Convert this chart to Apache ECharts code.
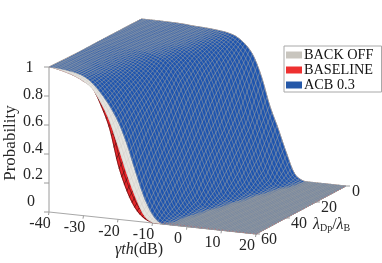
<!DOCTYPE html>
<html><head><meta charset="utf-8">
<style>html,body{margin:0;padding:0;background:#fff}#c{width:382px;height:263px}</style>
<script src="https://cdn.jsdelivr.net/npm/echarts@6/dist/echarts.min.js"></script>
</head><body><div id="c"></div>
<script>
const gammaGrid=[-40,-37.5,-35,-32.5,-30,-27.5,-25,-22.5,-20,-17.5,-15,-12.5,-10,-7.5,-5,-2.5,0,2.5,5,7.5,10,12.5,15,17.5,20];
const lambdaRowsAcb=[0,10,20,30,40,50,60];
const lambdaRowsOther=[0,20,40,60];
const acb0=[1,1,1,.999,.998,.995,.99,.987,.983,.977,.968,.948,.905,.83,.69,.5,.35,.19,.05,.005,0,0,0,0,0];
const acb10=[1,1,.999,.997,.993,.989,.986,.981,.974,.962,.934,.881,.785,.63,.45,.3,.145,.035,.002,0,0,0,0,0,0];
const acb20=[1,.999,.997,.993,.989,.986,.981,.974,.963,.937,.885,.79,.64,.455,.305,.15,.037,.002,0,0,0,0,0,0,0];
const acb30=[.999,.997,.994,.989,.985,.98,.974,.96,.935,.88,.79,.65,.47,.32,.16,.04,.003,0,0,0,0,0,0,0,0];
const acb40=[.997,.993,.987,.98,.972,.96,.94,.905,.85,.76,.63,.47,.32,.16,.04,.003,0,0,0,0,0,0,0,0,0];
const acb50=[.996,.992,.985,.975,.96,.94,.905,.85,.765,.65,.49,.33,.19,.06,.005,0,0,0,0,0,0,0,0,0,0];
const acb60=[1,.997,.99,.98,.96,.92,.855,.775,.67,.525,.34,.17,.055,.002,0,0,0,0,0,0,0,0,0,0,0];
const backoff20=[.999,.997,.993,.988,.984,.979,.972,.96,.935,.88,.8,.67,.49,.33,.17,.05,.003,0,0,0,0,0,0,0,0];
const backoff40=[.995,.988,.98,.97,.955,.93,.89,.82,.72,.56,.4,.23,.09,.01,0,0,0,0,0,0,0,0,0,0,0];
const backoff60=[1,.99,.975,.955,.925,.88,.79,.67,.5,.32,.165,.045,.002,0,0,0,0,0,0,0,0,0,0,0,0];
const baseline20=[.999,.997,.992,.987,.982,.976,.968,.95,.915,.85,.75,.6,.42,.26,.11,.02,0,0,0,0,0,0,0,0,0];
const baseline40=[.995,.987,.978,.965,.95,.92,.87,.78,.66,.49,.32,.17,.06,.005,0,0,0,0,0,0,0,0,0,0,0];
const baseline60=[1,.99,.975,.955,.925,.885,.77,.615,.37,.2,.085,.025,.001,0,0,0,0,0,0,0,0,0,0,0,0];
const zTicks=[0,.2,.4,.6,.8,1];
const zLabels=['0','0.2','0.4','0.6','0.8','1'];
const gammaTicks=[-40,-30,-20,-10,0,10,20];
const lambdaTicks=[0,20,40,60];

const surfaces=[
 {name:'BASELINE',color:'#e8262a',legend:'#ee3030',mesh:'#301010',rows:lambdaRowsOther,table:[acb0,baseline20,baseline40,baseline60],w:.55},
 {name:'BACK OFF',color:'#e6e4df',legend:'#c8c5be',mesh:'#cfcdc8',rows:lambdaRowsOther,table:[acb0,backoff20,backoff40,backoff60],w:.5},
 {name:'ACB 0.3',color:'#1f55ae',legend:'#2558a8',mesh:'#a6a6a2',rows:lambdaRowsAcb,table:[acb0,acb10,acb20,acb30,acb40,acb50,acb60],w:.5,edge:true,floor:'#9c9c98'}
];

function colVal(row,g){
  const t=(g+40)/2.5,i=Math.min(Math.floor(t),gammaGrid.length-2),f=t-i;
  const p0=row[Math.max(i-1,0)],p1=row[i],p2=row[i+1],p3=row[Math.min(i+2,row.length-1)];
  const v=.5*(2*p1+(p2-p0)*f+(2*p0-5*p1+4*p2-p3)*f*f+(3*p1-p0-3*p2+p3)*f*f*f);
  return Math.max(0,Math.min(1,v));
}
function surfVal(s,g,l){
  const r=s.rows;let j=0;while(j<r.length-2&&l>r[j+1])j++;
  const f=(l-r[j])/(r[j+1]-r[j]);
  return colVal(s.table[j],g)*(1-f)+colVal(s.table[j+1],g)*f;
}
function proj(api,g,l,z){
  const c=api.coord([g,z]),b=(60-l)/60,a=(g+40)/60;
  return [c[0]+b*90+b*z*2.5,c[1]+a*22-b*48];
}
function seq(a,b,st){const o=[];for(let v=a;v<=b+1e-9;v+=st)o.push(v);return o;}

function surfaceRender(s){
  return function(params,api){
    const ch=[];
    const gs=seq(-40,20,.5),ls=seq(0,60,1);
    const pt=(g,l)=>proj(api,g,l,surfVal(s,g,l));
    const outline=[];
    gs.forEach(g=>outline.push(pt(g,60)));
    ls.slice().reverse().forEach(l=>outline.push(pt(20,l)));
    gs.slice().reverse().forEach(g=>outline.push(pt(g,0)));
    ls.forEach(l=>outline.push(pt(-40,l)));
    ch.push({type:'polygon',shape:{points:outline},style:{fill:s.color,stroke:null}});
    seq(-40,20,.75).forEach(g=>{
      ch.push({type:'polyline',shape:{points:ls.filter((x,i)=>i%2==0).map(l=>pt(g,l))},style:{fill:null,stroke:s.mesh,lineWidth:s.w}});
    });
    seq(0,60,1.3).forEach(l=>{
      ch.push({type:'polyline',shape:{points:gs.map(g=>pt(g,l))},style:{fill:null,stroke:s.mesh,lineWidth:s.w}});
    });
    if(s.floor){
      seq(.6,60,.9).forEach(l=>{
        const flat=gs.filter(g=>surfVal(s,g,l)<.004);
        if(flat.length>1)ch.push({type:'polyline',shape:{points:flat.map(g=>pt(g,l))},style:{fill:null,stroke:s.floor,lineWidth:.55}});
      });
    }
    if(s.edge){
      ch.push({type:'polyline',shape:{points:[pt(-8,60),pt(20,60),pt(20,0)]},style:{fill:null,stroke:'#c06a6a',lineWidth:.8,lineDash:[1,2.5]}});
    }
    return {type:'group',children:ch};
  };
}
const FONT='"Liberation Serif","Times New Roman",serif';
const INK='#262626',AX='#9a9a9a';
function txt(x,y,t,sz){
  return {type:'text',style:{text:t,x:x,y:y,font:(sz||16)+'px '+FONT,fill:INK,align:'center',verticalAlign:'middle'}};
}
function axesRender(params,api){
  const ch=[];
  const ln=(a,b,c)=>ch.push({type:'line',shape:{x1:a[0],y1:a[1],x2:b[0],y2:b[1]},style:{stroke:c||AX,lineWidth:1}});
  ln(proj(api,-40,60,0),proj(api,-40,60,1));
  ln(proj(api,-40,60,0),proj(api,20,60,0),'#a8a8a8');
  ln(proj(api,20,60,0),proj(api,20,0,0),'#a8a8a8');
  zTicks.forEach((z,i)=>{
    const p=proj(api,-40,60,z);ln([p[0]-5,p[1]],p);
    ch.push(txt(zLabels[i].length>1?33:(z?29.5:31),68+(1-z)*134,zLabels[i]));
  });
  gammaTicks.forEach((g,i)=>{
    const p=proj(api,g,60,0);ln(p,[p[0]-.5,p[1]+3]);
    ch.push(txt(p[0]-9,p[1]+12,String(g)));
  });
  lambdaTicks.forEach(l=>{
    const p=proj(api,20,l,0);ln(p,[p[0]+4,p[1]]);
    ch.push(txt(p[0]+(l?13:10),p[1]+6,String(l)));
  });
  ch.push({type:'text',rotation:Math.PI/2,x:11,y:143,style:{text:'Probability',x:0,y:0,font:'17px '+FONT,fill:INK,align:'center',verticalAlign:'middle'}});
  ch.push({type:'text',style:{x:115,y:250,fill:INK,verticalAlign:'middle',text:'{a|γ}{b|th}{c|(dB)}',
    rich:{a:{fontFamily:FONT,fontSize:16,fontStyle:'italic',fill:INK},b:{fontFamily:FONT,fontSize:16,fontStyle:'italic',fill:INK},c:{fontFamily:FONT,fontSize:16,fill:INK}}}});
  ch.push({type:'text',style:{x:313,y:225,fill:INK,verticalAlign:'middle',text:'{a|λ}{s|Dp}{c|/}{a|λ}{s|B}',
    rich:{a:{fontFamily:FONT,fontSize:16,fontStyle:'italic',fill:INK},s:{fontFamily:FONT,fontSize:10,fill:INK,verticalAlign:'bottom',padding:[6,0,0,0]},c:{fontFamily:FONT,fontSize:16,fill:INK}}}});
  return {type:'group',children:ch};
}
const series=surfaces.map(s=>({type:'custom',name:s.name,coordinateSystem:'cartesian2d',silent:true,clip:false,
  itemStyle:{color:s.legend},renderItem:surfaceRender(s),data:[[0,0]]}));
series.unshift({type:'custom',name:'axes',coordinateSystem:'cartesian2d',silent:true,clip:false,renderItem:axesRender,data:[[0,0]],z:1});
const chart=echarts.init(document.getElementById('c'),null,{renderer:'canvas'});
chart.setOption({
  animation:false,backgroundColor:'#fff',
  grid:{left:49,top:67,width:207,height:145,containLabel:false},
  xAxis:{type:'value',min:-40,max:20,show:false},
  yAxis:{type:'value',min:0,max:1,show:false},
  legend:{left:284,top:46,orient:'vertical',data:['BACK OFF','BASELINE','ACB 0.3'],icon:'rect',itemWidth:16,itemHeight:7,itemGap:1,
    padding:[2,8,0,2],borderColor:'#a8a8a8',borderWidth:1,backgroundColor:'#fff',selectedMode:false,
    textStyle:{fontFamily:FONT,fontSize:14.3,color:'#111',padding:[0,0,0,-3]}},
  series:series
});
</script></body></html>
